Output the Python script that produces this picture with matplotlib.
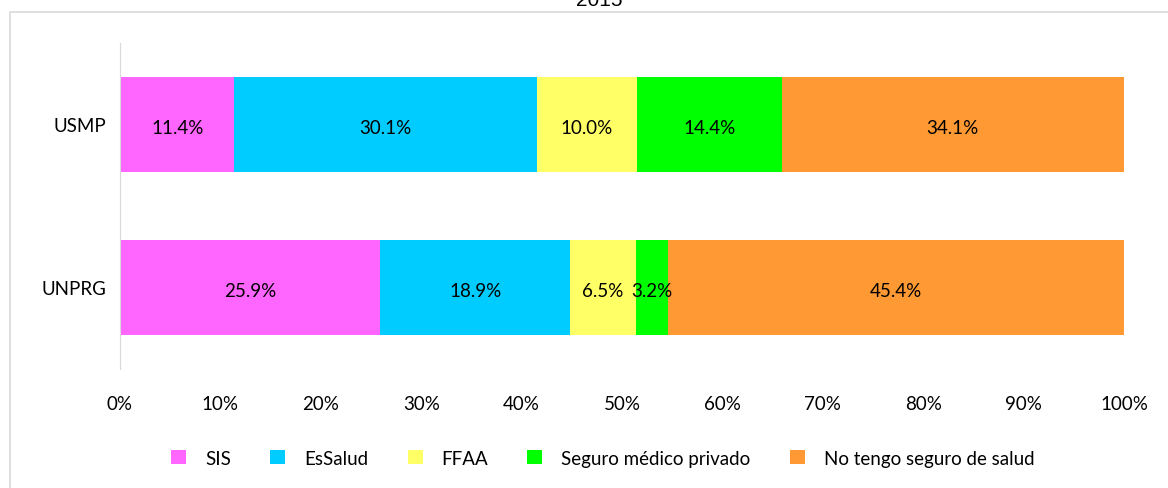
import matplotlib.pyplot as plt
import matplotlib.patches as patches
import numpy as np

plt.rcParams['font.family'] = ['Lato', 'DejaVu Sans']

# datos
universidades = ['UNPRG', 'USMP']
categorias = ['SIS', 'EsSalud', 'FFAA', 'Seguro médico privado', 'No tengo seguro de salud']
unprg = [25.9, 18.9, 6.5, 3.2, 45.4]
usmp = [11.4, 30.1, 10.0, 14.4, 34.1]
colores = ['#FF66FF', '#00CCFF', '#FFFF66', '#00FF00', '#FF9933']
titulo = '2015'

valores = np.array([unprg, usmp])
porcentajes = valores / valores.sum(axis=1, keepdims=True) * 100

fs = 13.5
fig = plt.figure(figsize=(11.68, 4.89), dpi=100)
ax = fig.add_axes([0.1027, 0.2434, 0.8596, 0.6667])

# marco del grafico
fig.patches.append(patches.Rectangle((10 / 1168, -0.1), 1.2, 1 - 13 / 489 + 0.1,
                                     transform=fig.transFigure, fill=False,
                                     edgecolor='#D9D9D9', linewidth=1.2))

izq = np.zeros(len(universidades))
for i, cat in enumerate(categorias):
    ax.barh(universidades, porcentajes[:, i], left=izq, height=0.58,
            color=colores[i], label=cat)
    for j in range(len(universidades)):
        ax.text(izq[j] + porcentajes[j, i] / 2, j - 0.02, f'{valores[j, i]:.1f}%',
                ha='center', va='center', fontsize=fs)
    izq += porcentajes[:, i]

ax.set_xlim(0, 100)
ax.set_ylim(-0.5, 1.5)
ax.set_xticks(range(0, 101, 10))
ax.set_xticklabels([f'{t}%' for t in range(0, 101, 10)], fontsize=fs)
ax.tick_params(axis='x', length=0, pad=19)
ax.tick_params(axis='y', length=0, pad=10, labelsize=fs)
for s in ['top', 'right', 'bottom']:
    ax.spines[s].set_visible(False)
ax.spines['left'].set_color('#D9D9D9')

fig.text(0.513, 0.998, titulo, ha='center', va='center', fontsize=15,
         family='Liberation Sans')

fig.legend(loc='center', bbox_to_anchor=(0.516, 0.061), ncol=5, frameon=False,
           fontsize=fs, handlelength=0.8, handleheight=0.8, handletextpad=1.0,
           columnspacing=2.1)

fig.savefig('out.png', dpi=100)
